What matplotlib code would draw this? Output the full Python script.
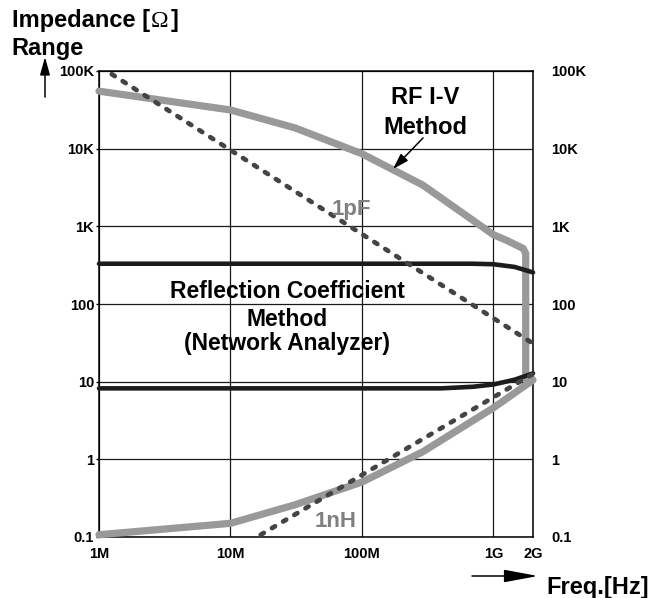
import matplotlib
matplotlib.use("Agg")
import matplotlib.pyplot as plt
from matplotlib.ticker import FixedLocator, NullLocator

# ---------------- data ----------------
x_ticks = [1e6, 1e7, 1e8, 1e9, 2e9]
x_labels = ["1M", "10M", "100M", "1G", "2G"]
y_ticks = [0.1, 1, 10, 100, 1e3, 1e4, 1e5]
y_labels = ["0.1", "1", "10", "100", "1K", "10K", "100K"]

# RF I-V method boundary (upper part incl. vertical drop near 1.8G)
rfiv_upper_f = [1e6, 1e7, 3.1e7, 1e8, 2.9e8, 1e9, 1.26e9, 1.68e9, 1.76e9, 1.76e9]
rfiv_upper_z = [55e3, 31.5e3, 18.5e3, 8.6e3, 3.4e3, 780, 660, 520, 450, 11]
# RF I-V method boundary (lower part)
rfiv_lower_f = [1e6, 1e7, 3.1e7, 1e8, 2.9e8, 1e9, 2e9]
rfiv_lower_z = [0.107, 0.15, 0.26, 0.51, 1.25, 4.6, 10.5]

# Reflection coefficient method boundaries
refl_upper_f = [1e6, 7e8, 1e9, 1.45e9, 2e9]
refl_upper_z = [330, 330, 325, 300, 255]
refl_lower_f = [1e6, 4e8, 7e8, 1e9, 1.45e9, 2e9]
refl_lower_z = [8.2, 8.2, 8.6, 9.2, 10.6, 12.8]

# reference reactance lines
pf_f = [1.25e6, 2e9]
pf_z = [9.1e4, 31]
nh_f = [1.7e7, 2e9]
nh_z = [0.107, 12.6]

# ---------------- figure ----------------
W, H = 649, 598
fig = plt.figure(figsize=(W / 100, H / 100), dpi=100)
FONT = "Liberation Sans"
plt.rcParams["font.family"] = [FONT, "DejaVu Sans"]

L, R, T, B = 99, 533, 71, 537
ax = fig.add_axes([L / W, 1 - B / H, (R - L) / W, (B - T) / H])
ax.set_xscale("log")
ax.set_yscale("log")
ax.set_xlim(1e6, 2e9)
ax.set_ylim(0.1, 1e5)

ax.xaxis.set_major_locator(FixedLocator(x_ticks))
ax.xaxis.set_minor_locator(NullLocator())
ax.set_xticklabels(x_labels, fontsize=10.5, fontweight="bold")
ax.yaxis.set_major_locator(FixedLocator(y_ticks))
ax.yaxis.set_minor_locator(NullLocator())
ax.set_yticklabels(y_labels, fontsize=10.5, fontweight="bold")
ax.tick_params(axis="x", length=0, pad=7)
ax.tick_params(axis="y", length=2.5, width=1, pad=1, direction="out")
ax.grid(True, which="major", color="#1a1a1a", linewidth=0.9)
ax.set_axisbelow(True)
for s in ax.spines.values():
    s.set_linewidth(1.1)
    s.set_color("black")

# right-side labels
ax2 = ax.twinx()
ax2.set_yscale("log")
ax2.set_ylim(0.1, 1e5)
ax2.yaxis.set_major_locator(FixedLocator(y_ticks))
ax2.yaxis.set_minor_locator(NullLocator())
ax2.set_yticklabels(y_labels, fontsize=10.5, fontweight="bold")
ax2.tick_params(axis="y", length=0, pad=13)
for s in ax2.spines.values():
    s.set_visible(False)

gray = "#999999"
dark = "#1c1c1c"
dash = "#444444"

ax.plot(rfiv_upper_f, rfiv_upper_z, color=gray, lw=5.2, solid_capstyle="round",
        solid_joinstyle="round", clip_on=False, zorder=3)
ax.plot(rfiv_lower_f, rfiv_lower_z, color=gray, lw=5.2, solid_capstyle="round",
        solid_joinstyle="round", clip_on=False, zorder=3)
ax.plot(refl_upper_f, refl_upper_z, color=dark, lw=3.3, solid_capstyle="round",
        clip_on=False, zorder=4)
ax.plot(refl_lower_f, refl_lower_z, color=dark, lw=3.3, solid_capstyle="round",
        clip_on=False, zorder=4)
for f, z in ((pf_f, pf_z), (nh_f, nh_z)):
    ax.plot(f, z, color=dash, lw=3.4, dashes=(0.75, 2.0), dash_capstyle="round",
            clip_on=False, zorder=5)

# ---------------- annotation text ----------------
def px(x, y):
    return x / W, 1 - y / H

bold = dict(fontweight="bold", family=FONT)
fig.text(*px(12, 27), "Impedance [", fontsize=17, va="baseline", ha="left", **bold)
fig.text(*px(151, 27), "\u03A9", fontsize=17, va="baseline", ha="left",
         family="Liberation Serif")
fig.text(*px(171, 27), "]", fontsize=17, va="baseline", ha="left", **bold)
fig.text(*px(11, 55), "Range", fontsize=17, va="baseline", ha="left", **bold)

fig.text(*px(425, 104), "RF I-V", fontsize=17, va="baseline", ha="center", **bold)
fig.text(*px(425, 134), "Method", fontsize=17, va="baseline", ha="center", **bold)

fig.text(*px(287, 298), "Reflection Coefficient", fontsize=16.5, va="baseline", ha="center", **bold)
fig.text(*px(287, 326), "Method", fontsize=16.5, va="baseline", ha="center", **bold)
fig.text(*px(287, 350), "(Network Analyzer)", fontsize=16.5, va="baseline", ha="center", **bold)

fig.text(*px(332, 215), "1pF", fontsize=16, va="baseline", ha="left", color="#808080", **bold)
fig.text(*px(315, 527), "1nH", fontsize=16, va="baseline", ha="left", color="#808080", **bold)

fig.text(*px(546, 594), "Freq.[Hz]", fontsize=17, va="baseline", ha="left", **bold)

# arrows (figure pixel coordinates)
ax.annotate("", xy=(393, H - 169), xytext=(423, H - 138), xycoords="figure pixels",
            textcoords="figure pixels",
            arrowprops=dict(arrowstyle="-|>,head_length=0.8,head_width=0.25",
                            lw=1.1, color="black", mutation_scale=12, shrinkA=0, shrinkB=0))
ax.annotate("", xy=(45, H - 57), xytext=(45, H - 97), xycoords="figure pixels",
            textcoords="figure pixels",
            arrowprops=dict(arrowstyle="-|>,head_length=0.9,head_width=0.25",
                            lw=1.1, color="black", mutation_scale=12, shrinkA=0, shrinkB=0))
ax.annotate("", xy=(538, H - 576), xytext=(472, H - 576), xycoords="figure pixels",
            textcoords="figure pixels",
            arrowprops=dict(arrowstyle="-|>,head_length=1.4,head_width=0.26",
                            lw=1.1, color="black", mutation_scale=15, shrinkA=0, shrinkB=0))

fig.savefig("out.png", dpi=100)
